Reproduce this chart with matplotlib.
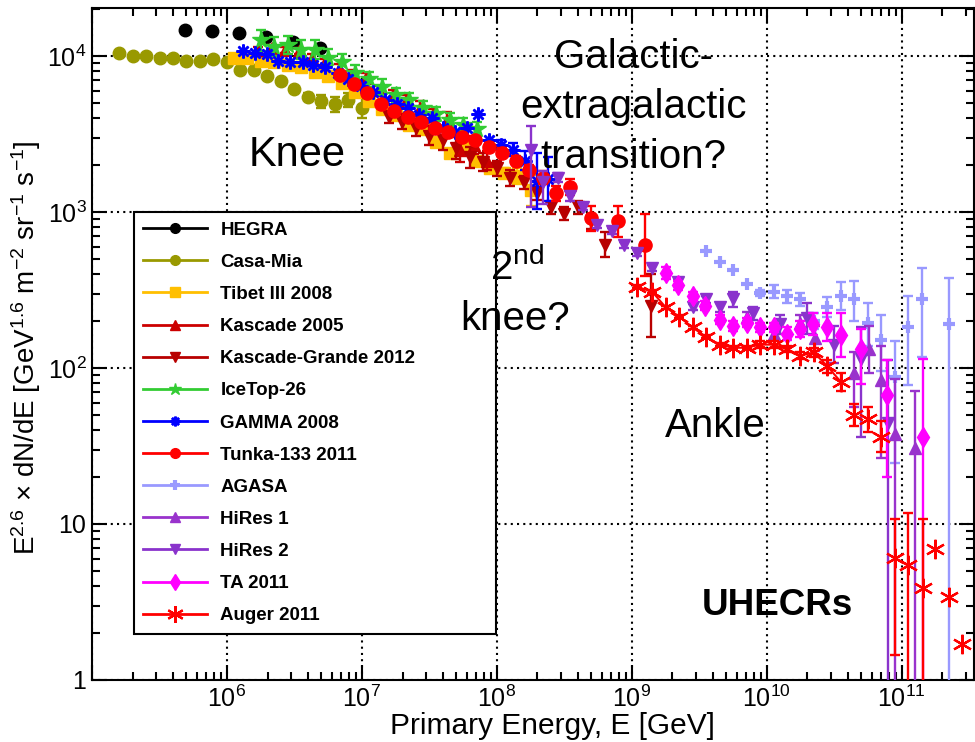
import numpy as np
import matplotlib
matplotlib.use("Agg")
import matplotlib.pyplot as plt
from matplotlib.lines import Line2D
from matplotlib.ticker import LogLocator, FixedLocator, FuncFormatter, NullFormatter

plt.rcParams['font.family'] = ['Liberation Sans', 'DejaVu Sans']
plt.rcParams['mathtext.fontset'] = 'custom'
plt.rcParams['mathtext.rm'] = 'Liberation Sans'
plt.rcParams['mathtext.it'] = 'Liberation Sans:italic'
plt.rcParams['mathtext.bf'] = 'Liberation Sans:bold'

# values: log10(E / GeV), log10(E^2.6 dN/dE), errors in dex
hegra_lgE = [5.69, 5.89, 6.09, 6.29, 6.49, 6.69]
hegra_lgF = [4.17, 4.16, 4.15, 4.12, 4.09, 4.05]

casamia_lgE = [5.2, 5.3, 5.4, 5.5, 5.6, 5.7, 5.8, 5.9, 6.0, 6.1, 6.2, 6.3, 6.4, 6.5, 6.6, 6.7, 6.8, 6.9, 7.0]
casamia_lgF = [4.02, 4.00, 4.00, 3.99, 3.99, 3.97, 3.97, 3.98, 3.96, 3.91, 3.91, 3.87, 3.84, 3.79, 3.74, 3.71, 3.69, 3.72, 3.67]
casamia_err = [0, 0, 0, 0, 0, 0, 0, 0, 0, 0, 0, 0, 0, 0, 0.02, 0.04, 0.05, 0.045, 0.065]

tibet_lgE = [6.05, 6.15, 6.25, 6.35, 6.45, 6.55, 6.65, 6.75, 6.85, 6.95, 7.05, 7.15, 7.25, 7.35, 7.45, 7.55, 7.65, 7.75, 7.85, 7.95, 8.05, 8.15, 8.25]
tibet_lgF = [3.99, 3.99, 3.97, 3.96, 3.94, 3.93, 3.90, 3.87, 3.83, 3.77, 3.71, 3.66, 3.62, 3.56, 3.53, 3.45, 3.38, 3.42, 3.33, 3.28, 3.25, 3.23, 3.14]
tibet_err = [0, 0, 0, 0, 0, 0, 0, 0, 0, 0, 0, 0, 0, 0, 0, 0, 0, 0, 0, 0.03, 0.03, 0.05, 0.1]

kascade_lgE = [6.23, 6.33, 6.43, 6.53, 6.63, 6.73, 6.83, 6.93, 7.03, 7.13, 7.23, 7.33, 7.43, 7.53, 7.63, 7.73, 7.83, 7.93]
kascade_lgF = [4.04, 4.05, 4.04, 4.03, 3.99, 3.96, 3.92, 3.88, 3.86, 3.78, 3.75, 3.71, 3.67, 3.62, 3.59, 3.40, 3.43, 3.33]
kascade_err = [0.02, 0.02, 0.02, 0.02, 0.02, 0.02, 0.03, 0.03, 0.03, 0.03, 0.03, 0.04, 0.04, 0.04, 0.05, 0.08, 0.06, 0.06]

kg_lgE = [7.2, 7.3, 7.4, 7.5, 7.6, 7.7, 7.8, 7.9, 8.0, 8.1, 8.2, 8.3, 8.4, 8.5, 8.6, 8.7, 8.8, 9.14]
kg_lgF = [3.61, 3.58, 3.54, 3.49, 3.46, 3.41, 3.35, 3.32, 3.28, 3.22, 3.19, 3.12, 3.03, 2.99, 3.03, 2.94, 2.79, 2.40]
kg_err = [0.04, 0.05, 0.05, 0.06, 0.06, 0.07, 0.07, 0.06, 0.05, 0.05, 0.04, 0.04, 0.04, 0.04, 0.04, 0.05, 0.08, 0.2]

icetop_lgE = [6.25, 6.35, 6.45, 6.55, 6.65, 6.75, 6.85, 6.95, 7.05, 7.15, 7.25, 7.35, 7.45, 7.55, 7.65, 7.75, 7.85]
icetop_lgF = [4.10, 4.06, 4.07, 4.04, 4.04, 3.99, 3.96, 3.89, 3.85, 3.80, 3.75, 3.72, 3.67, 3.63, 3.59, 3.56, 3.53]
icetop_err = [0.065, 0.06, 0.06, 0.06, 0.06, 0.055, 0.055, 0.05, 0.05, 0.05, 0.045, 0.045, 0.045, 0.045, 0.045, 0.045, 0.045]

gamma_lgE = [6.12, 6.21, 6.30, 6.38, 6.47, 6.56, 6.64, 6.73, 6.82, 6.90, 6.99, 7.08, 7.17, 7.26, 7.34, 7.42, 7.52, 7.60, 7.69, 7.78, 7.86, 7.94, 8.03, 8.12, 8.21, 8.30, 8.38]
gamma_lgF = [4.03, 4.02, 4.01, 3.97, 3.96, 3.96, 3.94, 3.93, 3.89, 3.85, 3.81, 3.77, 3.72, 3.69, 3.67, 3.62, 3.60, 3.54, 3.51, 3.54, 3.63, 3.46, 3.43, 3.40, 3.33, 3.20, 3.21]
gamma_err = [0, 0, 0, 0, 0, 0, 0, 0, 0, 0, 0, 0, 0, 0, 0, 0, 0, 0, 0, 0, 0, 0, 0.03, 0.04, 0.06, 0.18, 0.14]

tunka_lgE = [6.84, 6.94, 7.04, 7.14, 7.24, 7.34, 7.44, 7.54, 7.64, 7.74, 7.84, 7.94, 8.04, 8.14, 8.24, 8.34, 8.44, 8.54, 8.70, 8.90, 9.10]
tunka_lgF = [3.88, 3.82, 3.76, 3.69, 3.65, 3.61, 3.58, 3.54, 3.51, 3.48, 3.46, 3.42, 3.38, 3.33, 3.27, 3.22, 3.12, 3.16, 2.96, 2.94, 2.79]
tunka_err = [0.02, 0.02, 0.02, 0.02, 0.02, 0.02, 0.02, 0.02, 0.02, 0.02, 0.02, 0.02, 0.03, 0.03, 0.03, 0.04, 0.05, 0.05, 0.08, 0.1, 0.2]

agasa_lgE = [9.55, 9.65, 9.75, 9.85, 9.95, 10.05, 10.15, 10.25, 10.35, 10.45, 10.55, 10.65, 10.75, 10.85, 10.95, 11.05, 11.15, 11.35]
agasa_lgF = [2.75, 2.68, 2.63, 2.54, 2.48, 2.49, 2.46, 2.44, 2.30, 2.39, 2.46, 2.44, 2.29, 2.18, 1.94, 2.26, 2.44, 2.28]
agasa_lo = [0, 0, 0, 0, 0.02, 0.04, 0.04, 0.04, 0.05, 0.065, 0.09, 0.14, 0.15, 0.2, 0.55, 0.37, 0.37, 3]
agasa_hi = [0, 0, 0, 0, 0.02, 0.04, 0.04, 0.04, 0.05, 0.065, 0.09, 0.12, 0.13, 0.16, 0.23, 0.2, 0.2, 0.3]

hires1_lgE = [9.85, 10.05, 10.25, 10.36, 10.65, 10.76, 10.85, 10.95, 11.10]
hires1_lgF = [2.33, 2.22, 2.29, 2.19, 1.97, 2.12, 1.92, 1.58, 1.49]
hires1_lo = [0.03, 0.04, 0.05, 0.08, 0.22, 0.15, 0.5, 3, 3]
hires1_hi = [0.03, 0.04, 0.05, 0.08, 0.13, 0.15, 0.22, 0.35, 0.36]

hires2_lgE = [8.25, 8.34, 8.45, 8.54, 8.64, 8.74, 8.85, 8.94, 9.04, 9.15, 9.34, 9.45, 9.55, 9.65, 9.75, 9.90, 10.10, 10.30, 10.50, 10.70, 10.90]
hires2_lgF = [3.40, 3.19, 3.22, 3.10, 3.03, 2.92, 2.88, 2.79, 2.74, 2.64, 2.55, 2.39, 2.44, 2.39, 2.44, 2.35, 2.28, 2.32, 2.15, 2.06, 1.65]
hires2_lo = [0.37, 0.14, 0.03, 0.03, 0.02, 0.02, 0.02, 0.02, 0.02, 0.02, 0.02, 0.02, 0.02, 0.03, 0.05, 0.04, 0.06, 0.1, 0.12, 0.5, 3]
hires2_hi = [0.15, 0.07, 0.03, 0.03, 0.02, 0.02, 0.02, 0.02, 0.02, 0.02, 0.02, 0.02, 0.02, 0.03, 0.05, 0.04, 0.06, 0.1, 0.12, 0.2, 0.4]

ta_lgE = [9.25, 9.34, 9.45, 9.54, 9.65, 9.75, 9.85, 9.95, 10.05, 10.15, 10.25, 10.34, 10.45, 10.55, 10.70, 10.89, 11.16]
ta_lgF = [2.61, 2.53, 2.46, 2.40, 2.31, 2.27, 2.29, 2.26, 2.26, 2.22, 2.25, 2.28, 2.26, 2.21, 2.12, 1.83, 1.56]
ta_lo = [0.04, 0.03, 0.03, 0.03, 0.03, 0.03, 0.03, 0.03, 0.03, 0.04, 0.05, 0.07, 0.09, 0.14, 0.22, 0.53, 3]
ta_hi = [0.04, 0.03, 0.03, 0.03, 0.03, 0.03, 0.03, 0.03, 0.03, 0.04, 0.05, 0.07, 0.09, 0.14, 0.13, 0.22, 0.5]

auger_lgE = [9.04, 9.15, 9.25, 9.35, 9.45, 9.55, 9.65, 9.75, 9.85, 9.95, 10.05, 10.15, 10.25, 10.35, 10.45, 10.55, 10.65, 10.75, 10.85, 10.95, 11.05, 11.16, 11.25, 11.35, 11.45]
auger_lgF = [2.52, 2.49, 2.39, 2.33, 2.26, 2.20, 2.15, 2.13, 2.13, 2.15, 2.15, 2.12, 2.08, 2.10, 2.01, 1.91, 1.70, 1.67, 1.56, 0.78, 0.74, 0.59, 0.84, 0.53, 0.23]
auger_lo = [0.01, 0.01, 0.01, 0.01, 0.01, 0.01, 0.01, 0.01, 0.01, 0.02, 0.02, 0.02, 0.02, 0.03, 0.04, 0.06, 0.07, 0.08, 0.1, 0.62, 3, 3, 0, 0, 0]
auger_hi = [0.01, 0.01, 0.01, 0.01, 0.01, 0.01, 0.01, 0.01, 0.01, 0.02, 0.02, 0.02, 0.02, 0.03, 0.04, 0.06, 0.07, 0.08, 0.1, 0.25, 0.33, 0.44, 0, 0, 0]
auger_n_joined = 16

fig = plt.figure(figsize=(9.75, 7.42), dpi=100)
ax = fig.add_axes([0.0944, 0.0836, 0.9046, 0.9056])
ax.set_xscale('log')
ax.set_yscale('log')
ax.set_xlim(1e5, 10 ** 11.536)
ax.set_ylim(1, 10 ** 4.308)

handles = []
labels = []


def series(lgE, lgF, color, marker, ms, label, lo=None, hi=None, mew=1.0,
           leg_ms=7, joined=0):
    E = 10.0 ** np.asarray(lgE)
    F = 10.0 ** np.asarray(lgF)
    if lo is not None:
        lo = np.asarray(lo, float)
        hi = lo if hi is None else np.asarray(hi, float)
        m = (lo > 0) | (hi > 0)
        ax.errorbar(E[m], F[m], yerr=[F[m] * (1 - 10 ** -lo[m]), F[m] * (10 ** hi[m] - 1)],
                    fmt='none', ecolor=color, elinewidth=1.7, capsize=3.5,
                    capthick=1.7, zorder=3)
    if joined:
        ax.plot(E[:joined], F[:joined], '-', color=color, lw=1.5, zorder=3)
    ax.plot(E, F, ls='none', marker=marker, ms=ms, color=color, mec=color,
            mew=mew, zorder=3)
    handles.append(Line2D([], [], color=color, lw=2, marker=marker, ms=leg_ms,
                          mec=color, mew=mew))
    labels.append(label)


star8 = (8, 2, 0)
star6 = (6, 2, 0)
series(hegra_lgE, hegra_lgF, 'black', 'o', 9, 'HEGRA')
series(casamia_lgE, casamia_lgF, '#999900', 'o', 9, 'Casa-Mia', casamia_err)
series(tibet_lgE, tibet_lgF, '#ffbf00', 's', 8, 'Tibet III 2008', tibet_err)
series(kascade_lgE, kascade_lgF, '#cc0000', '^', 8.5, 'Kascade 2005', kascade_err)
series(kg_lgE, kg_lgF, '#b80000', 'v', 8.5, 'Kascade-Grande 2012', kg_err)
series(icetop_lgE, icetop_lgF, '#33cc33', '*', 13, 'IceTop-26', icetop_err, leg_ms=9)
series(gamma_lgE, gamma_lgF, '#0000ff', star8, 10, 'GAMMA 2008', gamma_err, mew=1.8)
series(tunka_lgE, tunka_lgF, '#ff0000', 'o', 9.5, 'Tunka-133 2011', tunka_err)
series(agasa_lgE, agasa_lgF, '#9999ff', '+', 9, 'AGASA', agasa_lo, agasa_hi, mew=3)
series(hires1_lgE, hires1_lgF, '#9933cc', '^', 8.5, 'HiRes 1', hires1_lo, hires1_hi)
series(hires2_lgE, hires2_lgF, '#8a33cc', 'v', 8.5, 'HiRes 2', hires2_lo, hires2_hi)
series(ta_lgE, ta_lgF, '#ff00ff', 'd', 10, 'TA 2011', ta_lo, ta_hi, leg_ms=8)
series(auger_lgE, auger_lgF, '#ff0000', star6, 14, 'Auger 2011', auger_lo, auger_hi,
       mew=1.6, leg_ms=12, joined=auger_n_joined)

# axes styling (ROOT look)
for s in ax.spines.values():
    s.set_linewidth(1.5)
ax.grid(which='major', color='black', ls=(0, (1, 2)), lw=1.5, zorder=1)
ax.set_axisbelow(True)

ax.xaxis.set_major_locator(FixedLocator([1e5, 1e6, 1e7, 1e8, 1e9, 1e10, 1e11]))
ax.xaxis.set_minor_locator(LogLocator(base=10, subs=np.arange(2, 10), numticks=100))
ax.xaxis.set_minor_formatter(NullFormatter())
ax.xaxis.set_major_formatter(FuncFormatter(
    lambda v, p: '' if v < 5e5 else r'$\mathregular{10^{%d}}$' % round(np.log10(v))))

ax.yaxis.set_major_locator(FixedLocator([1, 10, 100, 1e3, 1e4]))
ax.yaxis.set_minor_locator(LogLocator(base=10, subs=np.arange(2, 10), numticks=100))
ax.yaxis.set_minor_formatter(NullFormatter())
y_tick_text = {0: '1', 1: '10', 2: r'$\mathregular{10^{2}}$', 3: r'$\mathregular{10^{3}}$',
               4: r'$\mathregular{10^{4}}$'}
ax.yaxis.set_major_formatter(FuncFormatter(lambda v, p: y_tick_text[int(round(np.log10(v)))]))

ax.tick_params(which='both', direction='in', top=True, right=True, width=1.5)
ax.tick_params(which='major', length=11, labelsize=18)
ax.tick_params(which='minor', length=6)
ax.tick_params(axis='x', which='major', pad=4)
ax.tick_params(axis='y', which='major', pad=4)

fig.text(552 / 975, 1 - 734 / 742, 'Primary Energy, E [GeV]', fontsize=21.5,
         ha='center', va='baseline')
fig.text(26 / 975, 1 - 348 / 742,
         r'E$^{\mathregular{2.6}}$ × dN/dE [GeV$^{\mathregular{1.6}}$ m$^{\mathregular{-2}}$ '
         r'sr$^{\mathregular{-1}}$ s$^{\mathregular{-1}}$]',
         fontsize=20, rotation=90, ha='center', va='center')

# annotations, drawn above the legend box
big = 29
notes = dict(ha='center', va='baseline', transform=ax.transAxes, zorder=12)
ax.text(0.2324, 0.7649, 'Knee', fontsize=30, **notes)
ax.text(0.6134, 0.9107, 'Galactic-', fontsize=big, **notes)
ax.text(0.6134, 0.8363, 'extragalactic', fontsize=big, **notes)
ax.text(0.6134, 0.7619, 'transition?', fontsize=big, **notes)
ax.text(0.4819, 0.5952, r'2$^{\mathregular{nd}}$', fontsize=big, **notes)
ax.text(0.4796, 0.5208, 'knee?', fontsize=big, **notes)
ax.text(0.7063, 0.3616, 'Ankle', fontsize=big, **notes)
ax.text(0.7766, 0.0967, 'UHECRs', fontsize=26.5, fontweight='bold', **notes)

leg = ax.legend(handles, labels, loc='upper left', mode='expand',
                bbox_to_anchor=(0.0476, 0.070, 0.4104, 0.626),
                prop={'weight': 'bold', 'size': 13.5}, frameon=True, fancybox=False,
                edgecolor='black', framealpha=1, borderpad=0.5, labelspacing=0.8,
                handlelength=3.4, handletextpad=0.7, borderaxespad=0)
leg.get_frame().set_linewidth(1.5)
leg.set_zorder(10)

fig.savefig('out.png', dpi=100)
